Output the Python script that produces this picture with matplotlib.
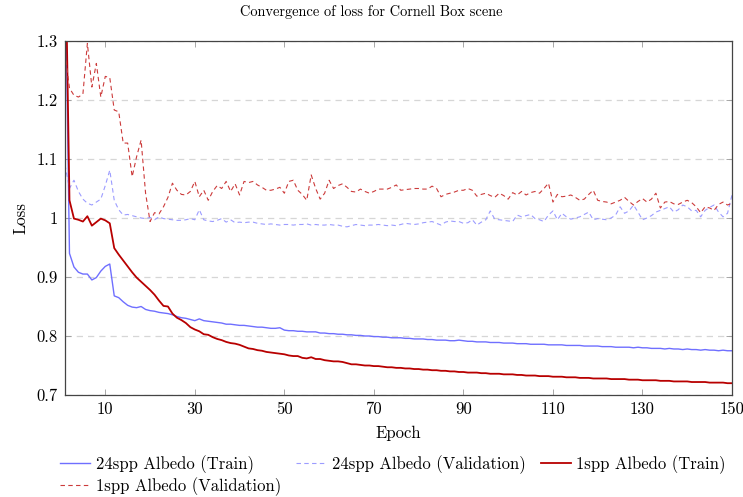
import numpy as np
import matplotlib
matplotlib.use("Agg")
import matplotlib.pyplot as plt

plt.rcParams["font.family"] = ["cmr10", "DejaVu Serif"]
plt.rcParams["axes.formatter.use_mathtext"] = True

epochs = np.arange(1, 151)

# 24spp albedo, training loss
train_24 = [
    1.450, 0.940, 0.917, 0.908, 0.905, 0.905, 0.895, 0.899, 0.910, 0.918,
    0.922, 0.868, 0.865, 0.858, 0.852, 0.849, 0.848, 0.850, 0.845, 0.843,
    0.842, 0.840, 0.839, 0.838, 0.836, 0.833, 0.831, 0.830, 0.828, 0.826,
    0.829, 0.826, 0.825, 0.824, 0.823, 0.822, 0.820, 0.820, 0.819, 0.818,
    0.818, 0.817, 0.816, 0.815, 0.815, 0.814, 0.813, 0.813, 0.814, 0.810,
    0.809, 0.809, 0.808, 0.808, 0.807, 0.807, 0.807, 0.805, 0.805, 0.804,
    0.804, 0.803, 0.803, 0.802, 0.802, 0.801, 0.801, 0.800, 0.800, 0.799,
    0.799, 0.798, 0.798, 0.797, 0.797, 0.797, 0.796, 0.796, 0.795, 0.795,
    0.795, 0.794, 0.794, 0.793, 0.793, 0.793, 0.792, 0.792, 0.793, 0.792,
    0.791, 0.791, 0.790, 0.790, 0.790, 0.789, 0.789, 0.789, 0.788, 0.788,
    0.788, 0.787, 0.787, 0.787, 0.786, 0.786, 0.786, 0.786, 0.785, 0.785,
    0.785, 0.785, 0.784, 0.784, 0.784, 0.784, 0.783, 0.783, 0.783, 0.783,
    0.782, 0.782, 0.782, 0.781, 0.781, 0.781, 0.781, 0.780, 0.781, 0.780,
    0.780, 0.779, 0.779, 0.779, 0.778, 0.779, 0.778, 0.778, 0.777, 0.778,
    0.777, 0.777, 0.776, 0.777, 0.776, 0.776, 0.775, 0.776, 0.775, 0.775,
]

# 24spp albedo, validation loss
val_24 = [
    1.090, 1.050, 1.064, 1.045, 1.032, 1.025, 1.022, 1.027, 1.032, 1.055,
    1.081, 1.030, 1.014, 1.005, 1.006, 1.004, 1.002, 1.000, 0.999, 1.001,
    0.997, 1.002, 0.999, 0.998, 0.997, 0.996, 0.996, 0.997, 0.999, 0.997,
    1.014, 0.997, 0.995, 0.994, 0.996, 0.999, 0.993, 0.997, 0.992, 0.993,
    0.992, 0.993, 0.993, 0.991, 0.990, 0.989, 0.990, 0.989, 0.988, 0.989,
    0.989, 0.988, 0.989, 0.989, 0.990, 0.988, 0.989, 0.988, 0.988, 0.989,
    0.988, 0.988, 0.986, 0.985, 0.987, 0.989, 0.988, 0.987, 0.988, 0.988,
    0.989, 0.988, 0.987, 0.988, 0.987, 0.989, 0.991, 0.990, 0.989, 0.990,
    0.992, 0.993, 0.994, 0.991, 0.988, 0.993, 0.995, 0.994, 0.994, 0.991,
    0.992, 0.997, 0.988, 0.993, 0.997, 1.012, 0.998, 0.997, 0.996, 0.995,
    0.994, 1.005, 1.002, 1.004, 1.006, 0.999, 0.997, 0.994, 1.005, 1.012,
    0.997, 1.008, 1.002, 0.998, 1.000, 1.002, 1.006, 1.010, 0.997, 0.999,
    0.998, 0.997, 1.000, 1.005, 1.019, 1.008, 1.012, 1.022, 1.010, 0.997,
    1.000, 1.004, 1.010, 1.013, 1.016, 1.019, 1.010, 1.014, 1.022, 1.019,
    1.012, 1.013, 1.002, 1.013, 1.018, 1.022, 1.010, 1.002, 1.008, 1.039,
]

# 1spp albedo, training loss
train_1 = [
    1.500, 1.030, 0.999, 0.997, 0.994, 1.003, 0.987, 0.993, 0.999, 0.996,
    0.991, 0.949, 0.938, 0.928, 0.918, 0.908, 0.899, 0.892, 0.885, 0.878,
    0.870, 0.860, 0.851, 0.850, 0.838, 0.831, 0.827, 0.822, 0.815, 0.811,
    0.808, 0.803, 0.802, 0.798, 0.795, 0.793, 0.790, 0.788, 0.787, 0.785,
    0.782, 0.779, 0.778, 0.776, 0.775, 0.773, 0.772, 0.771, 0.770, 0.769,
    0.767, 0.766, 0.766, 0.763, 0.762, 0.764, 0.761, 0.761, 0.759, 0.758,
    0.757, 0.757, 0.756, 0.754, 0.752, 0.752, 0.751, 0.750, 0.750, 0.749,
    0.749, 0.748, 0.747, 0.747, 0.746, 0.746, 0.745, 0.745, 0.744, 0.744,
    0.743, 0.743, 0.742, 0.742, 0.741, 0.741, 0.740, 0.740, 0.739, 0.739,
    0.738, 0.738, 0.738, 0.737, 0.737, 0.736, 0.736, 0.736, 0.735, 0.735,
    0.735, 0.734, 0.734, 0.733, 0.733, 0.733, 0.732, 0.732, 0.732, 0.731,
    0.731, 0.731, 0.730, 0.730, 0.730, 0.729, 0.729, 0.729, 0.728, 0.728,
    0.728, 0.728, 0.727, 0.727, 0.727, 0.727, 0.726, 0.726, 0.726, 0.725,
    0.725, 0.725, 0.725, 0.724, 0.724, 0.724, 0.723, 0.723, 0.723, 0.723,
    0.722, 0.722, 0.722, 0.722, 0.721, 0.721, 0.721, 0.721, 0.720, 0.720,
]

# 1spp albedo, validation loss
val_1 = [
    1.280, 1.220, 1.208, 1.205, 1.210, 1.296, 1.222, 1.262, 1.205, 1.240,
    1.238, 1.183, 1.180, 1.127, 1.127, 1.070, 1.104, 1.132, 1.042, 0.994,
    1.009, 1.007, 1.019, 1.035, 1.059, 1.047, 1.040, 1.039, 1.045, 1.062,
    1.036, 1.047, 1.030, 1.045, 1.055, 1.050, 1.062, 1.045, 1.058, 1.039,
    1.062, 1.060, 1.062, 1.056, 1.052, 1.047, 1.047, 1.049, 1.052, 1.042,
    1.062, 1.064, 1.047, 1.040, 1.030, 1.073, 1.050, 1.032, 1.042, 1.064,
    1.050, 1.055, 1.058, 1.052, 1.045, 1.044, 1.049, 1.045, 1.042, 1.045,
    1.049, 1.049, 1.049, 1.052, 1.056, 1.047, 1.048, 1.049, 1.050, 1.050,
    1.049, 1.049, 1.054, 1.050, 1.036, 1.040, 1.042, 1.044, 1.047, 1.047,
    1.050, 1.047, 1.037, 1.040, 1.042, 1.038, 1.035, 1.042, 1.038, 1.032,
    1.043, 1.039, 1.045, 1.039, 1.043, 1.045, 1.042, 1.050, 1.059, 1.027,
    1.040, 1.036, 1.037, 1.039, 1.035, 1.030, 1.032, 1.040, 1.047, 1.030,
    1.028, 1.027, 1.024, 1.027, 1.030, 1.035, 1.028, 1.022, 1.028, 1.033,
    1.027, 1.032, 1.042, 1.017, 1.027, 1.028, 1.024, 1.023, 1.027, 1.030,
    1.026, 1.019, 1.009, 1.019, 1.017, 1.013, 1.023, 1.027, 1.022, 1.025,
]

xticks = [10, 30, 50, 70, 90, 110, 130, 150]
yticks = [0.7, 0.8, 0.9, 1.0, 1.1, 1.2, 1.3]
ytick_labels = ["0.7", "0.8", "0.9", "1", "1.1", "1.2", "1.3"]

fig = plt.figure(figsize=(7.43, 4.97), dpi=100)
ax = fig.add_axes([65 / 743, 1 - 395 / 497, (732 - 65) / 743, (395 - 41) / 497])

l1, = ax.plot(epochs, train_24, color="#6f6fff", lw=1.0, label="24spp Albedo (Train)")
l2, = ax.plot(epochs, val_24, color="#9c9cff", lw=0.8, dashes=(4, 3),
              label="24spp Albedo (Validation)")
l3, = ax.plot(epochs, train_1, color="#b80000", lw=1.3, label="1spp Albedo (Train)")
l4, = ax.plot(epochs, val_1, color="#cc3b3b", lw=0.8, dashes=(4, 3),
              label="1spp Albedo (Validation)")

ax.set_xlim(1, 150)
ax.set_ylim(0.7, 1.3)
ax.set_xticks(xticks)
ax.set_xticklabels([str(t) for t in xticks])
ax.set_yticks(yticks)
ax.set_yticklabels(ytick_labels)
ax.tick_params(direction="in", length=4, width=0.6, color="#999999",
               top=True, right=True, labelsize=12, pad=5)

ax.grid(axis="y", color="#d6d6d6", lw=0.9, dashes=(5, 4))
ax.set_axisbelow(True)
for s in ax.spines.values():
    s.set_color("#444444")
    s.set_linewidth(0.9)

fig.text(371 / 743, 1 - 12 / 497, "Convergence of loss for Cornell Box scene",
         fontsize=10.4, ha="center", va="center")
ax.set_xlabel("Epoch", fontsize=12, labelpad=6)
ax.set_ylabel("Loss", fontsize=12, labelpad=6)

# legend is filled column by column, so order handles to read row by row
handles = [l1, l4, l2, l3]
fig.legend(handles, [h.get_label() for h in handles],
           loc="upper left", bbox_to_anchor=(60 / 743, 0.084), ncol=3,
           frameon=False, fontsize=12, handlelength=1.8, handletextpad=0.35,
           columnspacing=0.9, labelspacing=0.2, borderaxespad=0, borderpad=0)

fig.savefig("out.png", dpi=100)
